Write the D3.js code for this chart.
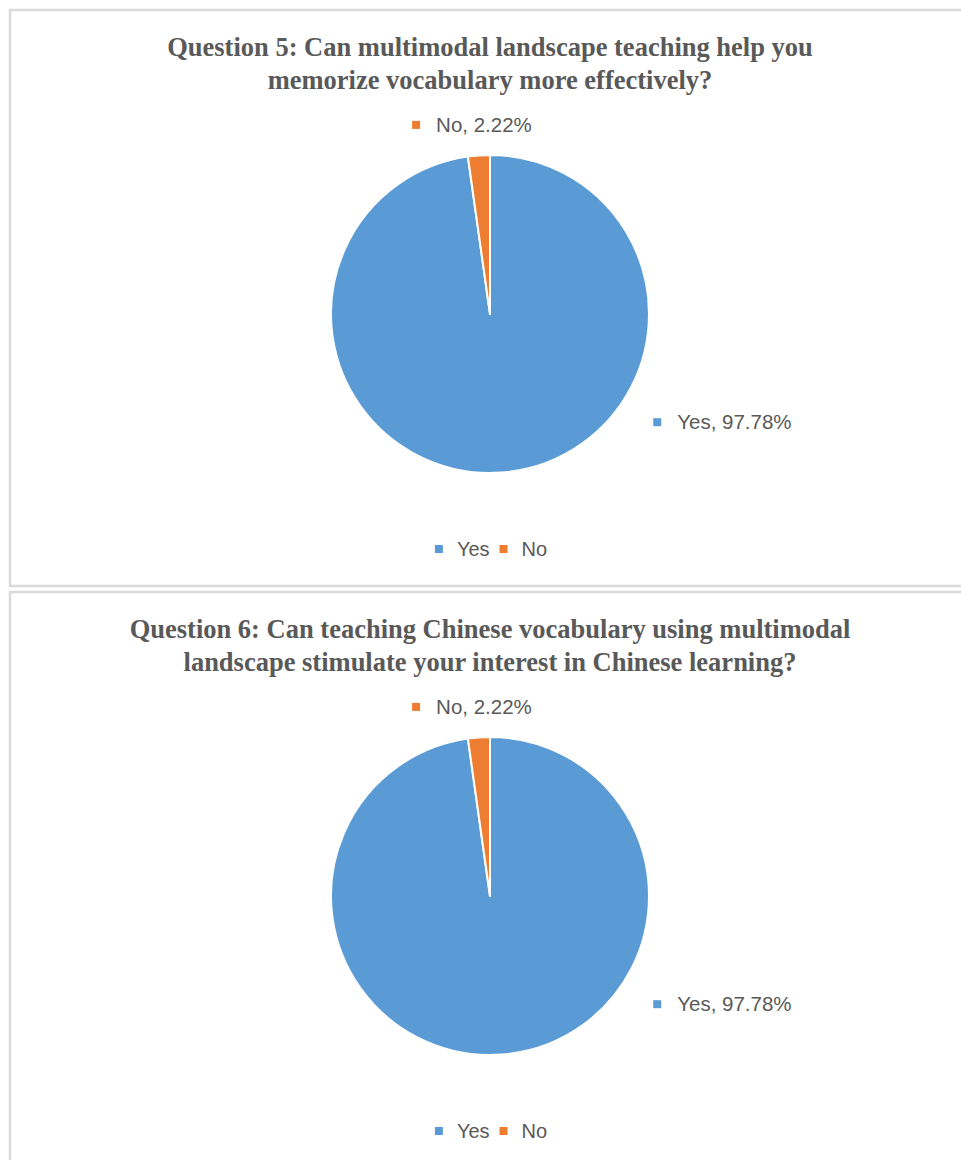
<!DOCTYPE html>
<html>
<head>
<meta charset="utf-8">
<script src="https://cdn.jsdelivr.net/npm/d3@7"></script>
<style>
  html, body { margin: 0; padding: 0; background: #fff; }
  svg { display: block; }
</style>
</head>
<body>
<svg id="chart" width="961" height="1160"></svg>
<script>
// Survey answers, one pie per question
const categories = ["Yes", "No"];
const q5Values = [97.78, 2.22];
const q6Values = [97.78, 2.22];
const q5Title = ["Question 5: Can multimodal landscape teaching help you",
                 "memorize vocabulary more effectively?"];
const q6Title = ["Question 6: Can teaching Chinese vocabulary using multimodal",
                 "landscape stimulate your interest in Chinese learning?"];

const colors = d3.scaleOrdinal().domain(categories).range(["#5B9BD5", "#ED7D31"]);
const textColor = "#595959";
const labelFont = "'Liberation Sans', Arial, sans-serif";

const svg = d3.select("#chart");

const panels = [
  { top: 10, title: q5Title, values: q5Values },
  { top: 592, title: q6Title, values: q6Values }
];

const radius = 159;
const pie = d3.pie().sort(null).value(d => d.value);
const arc = d3.arc().innerRadius(0).outerRadius(radius);

// Label placement around the pie: angle (degrees from 12 o'clock) and distance
const labelPlacement = {
  "Yes": { angle: 123.7, dist: radius + 36, anchor: "start" },
  "No":  { angle: -5.6, dist: radius + 31, anchor: "middle" }
};

panels.forEach(p => {
  const g = svg.append("g");

  // chart frame (extends past the right / bottom edge of the page)
  g.append("rect")
    .attr("x", 10).attr("y", p.top)
    .attr("width", 980).attr("height", 576)
    .attr("fill", "#fff")
    .attr("stroke", "#d9d9d9").attr("stroke-width", 2.5);

  // title
  g.append("text")
    .attr("text-anchor", "middle")
    .attr("font-family", "'Liberation Serif', 'Times New Roman', serif")
    .attr("font-weight", "bold")
    .attr("font-size", 26.5)
    .attr("fill", textColor)
    .selectAll("tspan")
    .data(p.title)
    .join("tspan")
    .attr("x", 490)
    .attr("y", (d, i) => p.top + 46 + i * 33)
    .text(d => d);

  const cx = 490, cy = p.top + 304;
  const data = categories.map((c, i) => ({ name: c, value: p.values[i] }));
  const arcs = pie(data);

  const pg = g.append("g").attr("transform", `translate(${cx},${cy})`);
  pg.selectAll("path")
    .data(arcs)
    .join("path")
    .attr("d", arc)
    .attr("fill", d => colors(d.data.name))
    .attr("stroke", "#fff")
    .attr("stroke-width", 2)
    .attr("stroke-linejoin", "round");

  // data labels: small colour marker + "Name, value%"
  arcs.forEach(a => {
    const pl = labelPlacement[a.data.name];
    const ang = pl.angle * Math.PI / 180;
    const lx = Math.sin(ang) * pl.dist;
    const ly = -Math.cos(ang) * pl.dist;
    const label = `${a.data.name}, ${a.data.value.toFixed(2)}%`;
    const lg = pg.append("g");
    const t = lg.append("text")
      .attr("x", 25).attr("y", 7)
      .attr("font-family", labelFont)
      .attr("font-size", 20.5)
      .attr("fill", textColor)
      .text(label);
    const tw = t.node().getComputedTextLength();
    const totalW = 25 + tw;
    lg.insert("rect", "text")
      .attr("x", 1).attr("y", -4)
      .attr("width", 8).attr("height", 8)
      .attr("fill", colors(a.data.name));
    const ox = pl.anchor === "middle" ? lx - totalW / 2 : lx;
    lg.attr("transform", `translate(${ox},${ly})`);
  });

  // legend
  const legendY = p.top + 539;
  const lgd = g.append("g");
  let x = 0;
  const items = [];
  categories.forEach(c => {
    const it = lgd.append("g");
    it.append("rect")
      .attr("x", 0).attr("y", -4)
      .attr("width", 8).attr("height", 8)
      .attr("fill", colors(c));
    const t = it.append("text")
      .attr("x", 22).attr("y", 7)
      .attr("font-family", labelFont)
      .attr("font-size", 20)
      .attr("fill", textColor)
      .text(c);
    const w = 22 + t.node().getComputedTextLength();
    items.push({ it, w });
  });
  items.forEach((d, i) => {
    d.it.attr("transform", `translate(${x},0)`);
    x += d.w + (i < items.length - 1 ? 10 : 0);
  });
  lgd.attr("transform", `translate(${491 - x / 2},${legendY})`);
});
</script>
</body>
</html>
